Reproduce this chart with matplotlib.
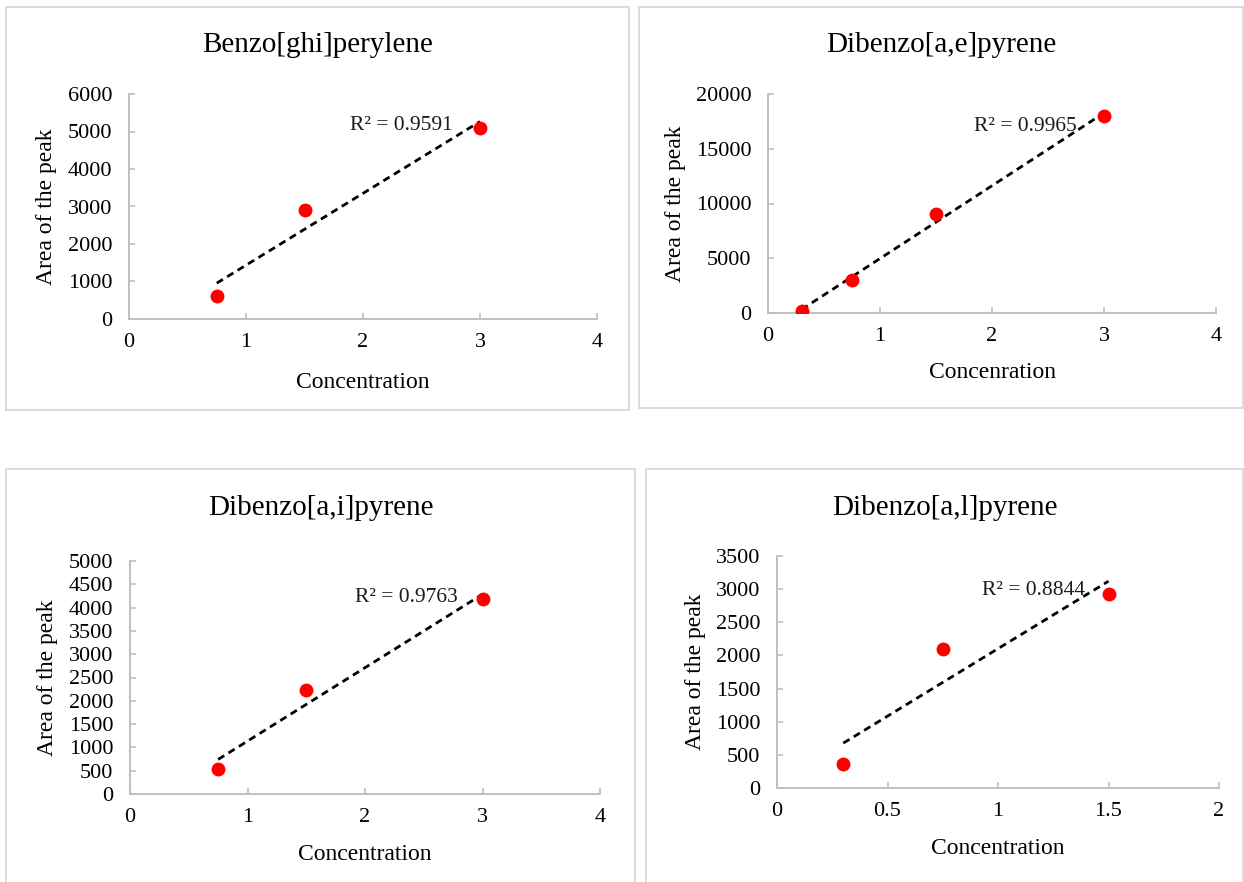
import numpy as np
import matplotlib
matplotlib.use("Agg")
import matplotlib.pyplot as plt
from matplotlib.patches import Rectangle
from matplotlib.ticker import FuncFormatter, MultipleLocator

plt.rcParams["font.family"] = ["Liberation Serif", "DejaVu Serif"]

# Calibration data for the four PAHs
titles = ["Benzo[ghi]perylene", "Dibenzo[a,e]pyrene",
          "Dibenzo[a,i]pyrene", "Dibenzo[a,l]pyrene"]
xlabels = ["Concentration", "Concenration", "Concentration", "Concentration"]

conc_bghip = [0.75, 1.5, 3.0]
area_bghip = [615, 2905, 5095]

conc_dbaep = [0.3, 0.75, 1.5, 3.0]
area_dbaep = [150, 3050, 9000, 18000]

conc_dbaip = [0.75, 1.5, 3.0]
area_dbaip = [530, 2240, 4180]

conc_dbalp = [0.3, 0.75, 1.5]
area_dbalp = [360, 2100, 2930]

r2_labels = ["R² = 0.9591", "R² = 0.9965", "R² = 0.9763", "R² = 0.8844"]

x_max = [4, 4, 4, 2]
x_step = [1, 1, 1, 0.5]
y_max = [6000, 20000, 5000, 3500]
y_step = [1000, 5000, 500, 500]

series = [(conc_bghip, area_bghip), (conc_dbaep, area_dbaep),
          (conc_dbaip, area_dbaip), (conc_dbalp, area_dbalp)]

W, H = 1244, 882
fig = plt.figure(figsize=(W / 100, H / 100), dpi=100)


def fx(x):
    return x / W


def fy(y):
    return 1 - y / H


# pixel layout: chart box, plot area, title y, ylabel x, xlabel y, r2 anchor (axes fraction)
layout = [
    dict(box=(6, 7, 629, 410), area=(129, 94, 597, 319), title_y=45,
         ylab_x=47, xlab_y=382, r2=(0.692, 0.858)),
    dict(box=(639, 7, 1243, 408), area=(768, 94, 1216, 313), title_y=45,
         ylab_x=676, xlab_y=373, r2=(0.690, 0.850)),
    dict(box=(6, 469, 635, 900), area=(130, 561, 600, 794), title_y=508,
         ylab_x=48, xlab_y=855, r2=(0.698, 0.845)),
    dict(box=(646, 469, 1243, 900), area=(777, 556, 1219, 788), title_y=508,
         ylab_x=695, xlab_y=849, r2=(0.697, 0.853)),
]

grey = "#bfbfbf"
for i, lay in enumerate(layout):
    bx0, by0, bx1, by1 = lay["box"]
    fig.patches.append(Rectangle((fx(bx0), fy(by1)), fx(bx1 - bx0), (by1 - by0) / H,
                                 transform=fig.transFigure, fill=False,
                                 edgecolor="#d9d9d9", linewidth=1.3))
    fig.text(fx((bx0 + bx1) / 2), fy(lay["title_y"]), titles[i],
             ha="center", va="center", fontsize=21)

    ax0, ay0, ax1, ay1 = lay["area"]
    ax = fig.add_axes([fx(ax0), fy(ay1), (ax1 - ax0) / W, (ay1 - ay0) / H])
    ax.set_facecolor("none")

    x, y = series[i]
    x = np.asarray(x)
    y = np.asarray(y)
    slope, intercept = np.polyfit(x, y, 1)
    xs = np.array([x.min(), x.max()])
    ax.plot(xs, intercept + slope * xs, color="black", linewidth=2.0,
            linestyle=(0, (2.6, 1.8)), zorder=2)
    ax.scatter(x, y, s=100, color="#ff0000", zorder=3, linewidths=0)

    ax.set_xlim(0, x_max[i])
    ax.set_ylim(0, y_max[i])
    ax.xaxis.set_major_locator(MultipleLocator(x_step[i]))
    ax.yaxis.set_major_locator(MultipleLocator(y_step[i]))
    ax.xaxis.set_major_formatter(FuncFormatter(lambda v, p: f"{v:g}"))
    ax.yaxis.set_major_formatter(FuncFormatter(lambda v, p: f"{v:.0f}"))

    for side in ("top", "right"):
        ax.spines[side].set_visible(False)
    for side in ("left", "bottom"):
        ax.spines[side].set_color(grey)
        ax.spines[side].set_linewidth(1.4)
    ax.tick_params(axis="both", direction="in", length=4, width=1.2,
                   color=grey, labelsize=16, labelcolor="black")
    ax.tick_params(axis="x", pad=10)
    ax.tick_params(axis="y", pad=12)

    fig.text(fx((ax0 + ax1) / 2), fy(lay["xlab_y"]), xlabels[i],
             ha="center", va="center", fontsize=17)
    fig.text(fx(lay["ylab_x"]), fy((ay0 + ay1) / 2), "Area of the peak",
             ha="center", va="center", rotation=90, fontsize=17)

    ax.text(lay["r2"][0], lay["r2"][1], r2_labels[i], transform=ax.transAxes,
            ha="right", va="center", fontsize=15.5, color="#1a1a1a")

fig.savefig("out.png", dpi=100)
